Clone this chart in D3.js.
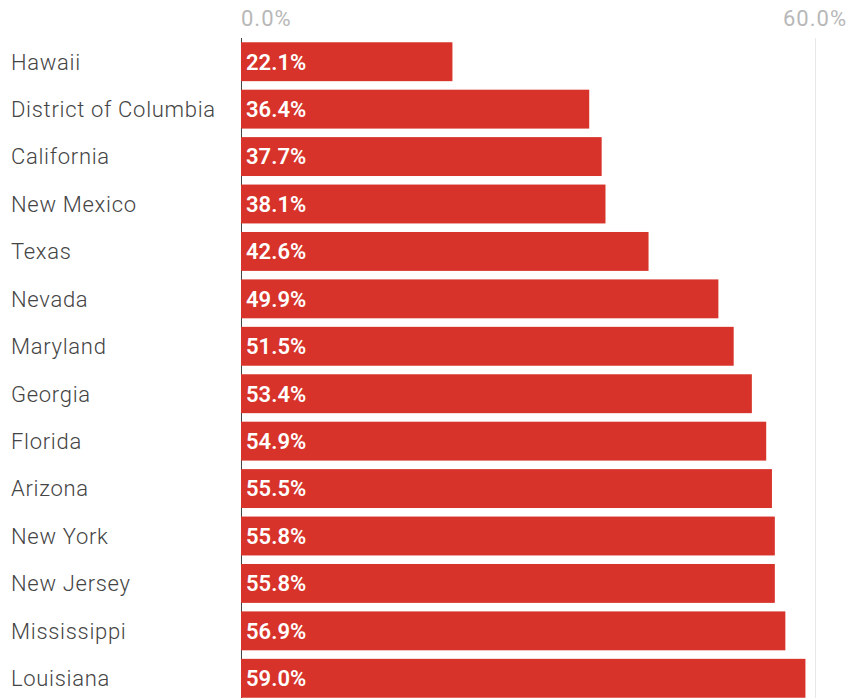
<!DOCTYPE html>
<html>
<head>
<meta charset="utf-8">
<script src="https://cdn.jsdelivr.net/npm/d3@7"></script>
<style>
  body { margin: 0; background: #fff; }
  svg text { font-family: Roboto, "Noto Sans", sans-serif; }
</style>
</head>
<body>
<div id="chart"></div>
<script>
let states = ["Hawaii", "District of Columbia", "California", "New Mexico", "Texas", "Nevada",
    "Maryland", "Georgia", "Florida", "Arizona", "New York", "New Jersey", "Mississippi", "Louisiana"];
let shares = [22.1, 36.4, 37.7, 38.1, 42.6, 49.9, 51.5, 53.4, 54.9, 55.5, 55.8, 55.8, 56.9, 59.0];
let ticks = [0, 60];

function main() {
    let w = 850, h = 698;
    let svg = d3.select("#chart").append("svg")
        .attr("width", w)
        .attr("height", h);

    let data = states.map((s, i) => ({state: s, value: shares[i]}));

    let x = d3.scaleLinear().domain([0, 60]).range([241, 815]);
    let y = d3.scaleBand()
        .domain(states)
        .range([38, 702])
        .paddingInner(0.18)
        .paddingOuter(0.09);

    // gridlines
    svg.selectAll("line.grid")
        .data(ticks)
        .enter().append("line")
        .attr("class", "grid")
        .attr("x1", d => x(d) + 0.5)
        .attr("x2", d => x(d) + 0.5)
        .attr("y1", 38)
        .attr("y2", h)
        .attr("stroke", d => d == 0 ? "#444" : "#e8e8e8")
        .attr("stroke-width", 1);

    // tick labels
    let fmt = d3.format(".1f");
    svg.selectAll("text.tick")
        .data(ticks)
        .enter().append("text")
        .attr("class", "tick")
        .attr("x", d => x(d))
        .attr("y", 26)
        .attr("text-anchor", d => d == 0 ? "start" : "middle")
        .attr("font-size", 22)
        .attr("letter-spacing", 1)
        .attr("fill", "#b8b8b8")
        .text(d => fmt(d) + "%");

    let rows = svg.selectAll("g.row")
        .data(data)
        .enter().append("g")
        .attr("class", "row");

    rows.append("rect")
        .attr("x", x(0))
        .attr("y", d => y(d.state))
        .attr("width", d => x(d.value) - x(0))
        .attr("height", y.bandwidth())
        .attr("fill", "#d7332a");

    rows.append("text")
        .attr("x", 11)
        .attr("y", d => y(d.state) + y.bandwidth() / 2)
        .attr("dy", "0.36em")
        .attr("font-size", 22)
        .attr("font-weight", 300)
        .attr("letter-spacing", 0.7)
        .attr("fill", "#444")
        .text(d => d.state);

    rows.append("text")
        .attr("x", x(0) + 5)
        .attr("y", d => y(d.state) + y.bandwidth() / 2)
        .attr("dy", "0.36em")
        .attr("font-size", 22)
        .attr("font-weight", 600)
        .attr("fill", "#fff")
        .text(d => fmt(d.value) + "%");
}

main();
</script>
</body>
</html>
